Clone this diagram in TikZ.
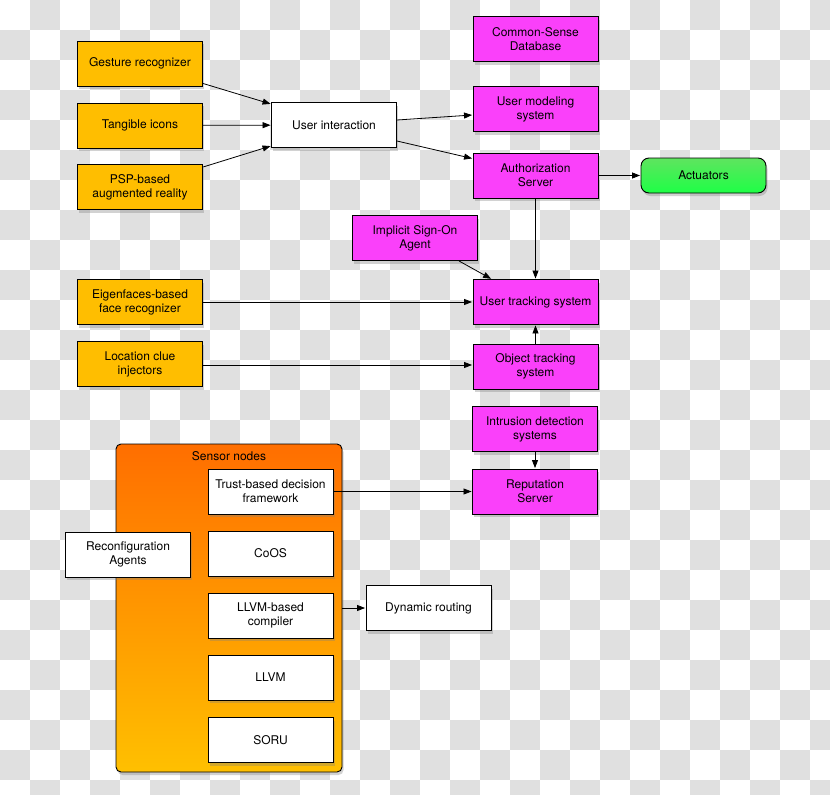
\documentclass[tikz,border=0pt]{standalone}
\usepackage{fontspec}
\setmainfont{TeX Gyre Heros}
\usetikzlibrary{arrows.meta,shadows,calc}
\definecolor{chk}{RGB}{224,224,224}
\definecolor{orangebox}{RGB}{255,190,0}
\definecolor{magbox}{RGB}{250,64,250}
\begin{document}
\begin{tikzpicture}[x=1pt,y=-1pt,
  box/.style={draw=black, line width=0.9pt, minimum width=125pt, minimum height=45pt,
    inner sep=2pt, align=center, font=\fontsize{12}{14}\selectfont,
    drop shadow={shadow xshift=1.5pt, shadow yshift=-3pt, opacity=0.35}},
  obox/.style={box, fill=orangebox},
  mbox/.style={box, fill=magbox},
  wbox/.style={box, fill=white},
  arr/.style={-{Triangle[length=8pt,width=6pt]}, line width=0.8pt, shorten >=0.5pt}]
\useasboundingbox (0,0) rectangle (830,795);
% checkerboard background
\begin{scope}
\clip (0,0) rectangle (830,795);
\fill[white] (0,0) rectangle (830,795);
\foreach \i in {0,...,27}{
  \foreach \j in {0,...,26}{
    \pgfmathtruncatemacro\p{mod(\i+\j,2)}
    \ifnum\p=1 \fill[chk] (30*\i,30*\j) rectangle ++(30,30); \fi
  }
}
\end{scope}

% left orange inputs
\node[obox] (g) at (140,63.5) {Gesture recognizer};
\node[obox] (t) at (140,125.5) {Tangible icons};
\node[obox] (p) at (140,187) {PSP-based\\augmented reality};
\node[wbox] (ui) at (334,125) {User interaction};

% magenta column
\node[mbox] (csd) at (535.5,39) {Common-Sense\\Database};
\node[mbox] (ums) at (535.5,109) {User modeling\\system};
\node[mbox] (auth) at (535.5,175.5) {Authorization\\Server};
\node[box, minimum height=35pt, rounded corners=8pt, top color={rgb,255:red,95;green,228;blue,95},
  bottom color={rgb,255:red,30;green,255;blue,70}] (act) at (703.5,175.5) {Actuators};
\node[mbox] (isoa) at (415,238) {Implicit Sign-On\\Agent};
\node[mbox] (uts) at (535.5,302) {User tracking system};
\node[mbox] (ots) at (535.5,366.5) {Object tracking\\system};
\node[mbox] (ids) at (535,429) {Intrusion detection\\systems};
\node[mbox] (rep) at (535,491.5) {Reputation\\Server};

\node[obox] (eig) at (140,302) {Eigenfaces-based\\face recognizer};
\node[obox] (loc) at (140,364) {Location clue\\injectors};

% sensor nodes container
\node[draw=black, line width=0.9pt, rounded corners=5pt, minimum width=226pt, minimum height=328pt,
  inner sep=0pt, top color={rgb,255:red,255;green,110;blue,0}, bottom color={rgb,255:red,255;green,192;blue,0},
  drop shadow={shadow xshift=1.5pt, shadow yshift=-3pt, opacity=0.35}] (sensor) at (229,608) {};
\node[font=\fontsize{12}{14}\selectfont] (sensorlbl) at (229,456) {Sensor nodes};
\node[wbox] (trust) at (270.5,491.5) {Trust-based decision\\framework};
\node[wbox] (coos) at (270.5,553.5) {CoOS};
\node[wbox] (llvmc) at (270.5,615.5) {LLVM-based\\compiler};
\node[wbox] (llvm) at (270.5,677.5) {LLVM};
\node[wbox] (soru) at (270.5,740) {SORU};
\node[wbox] (reconf) at (128,554.5) {Reconfiguration\\Agents};
\node[wbox] (dyn) at (428.5,608) {Dynamic routing};

% connectors
\draw[arr] ([yshift=3pt]g.south east) -- ([yshift=-2pt]ui.north west);
\draw[arr] (t) -- (ui);
\draw[arr] ([yshift=-3pt]p.north east) -- ([yshift=2pt]ui.south west);
\draw[arr] ([yshift=5pt]ui.east) -- ([yshift=-6pt]ums.west);
\draw[arr] ([yshift=-16pt]ui.east) -- ([yshift=-6pt]auth.north west);
\draw[arr] (auth) -- (act);
\draw[arr] (auth) -- (uts);
\draw[arr] ([xshift=-19pt]isoa.south east) -- ([xshift=19pt]uts.north west);
\draw[arr] (eig) -- (uts);
\draw[arr] ([yshift=-1pt]loc.east) -- ([yshift=-1pt]loc.east -| ots.west);
\draw[arr] (ots) -- (uts);
\draw[arr] (ids) -- (rep);
\draw[arr] (trust) -- (rep);
\draw[arr] (sensor) -- (dyn);
\end{tikzpicture}
\end{document}
